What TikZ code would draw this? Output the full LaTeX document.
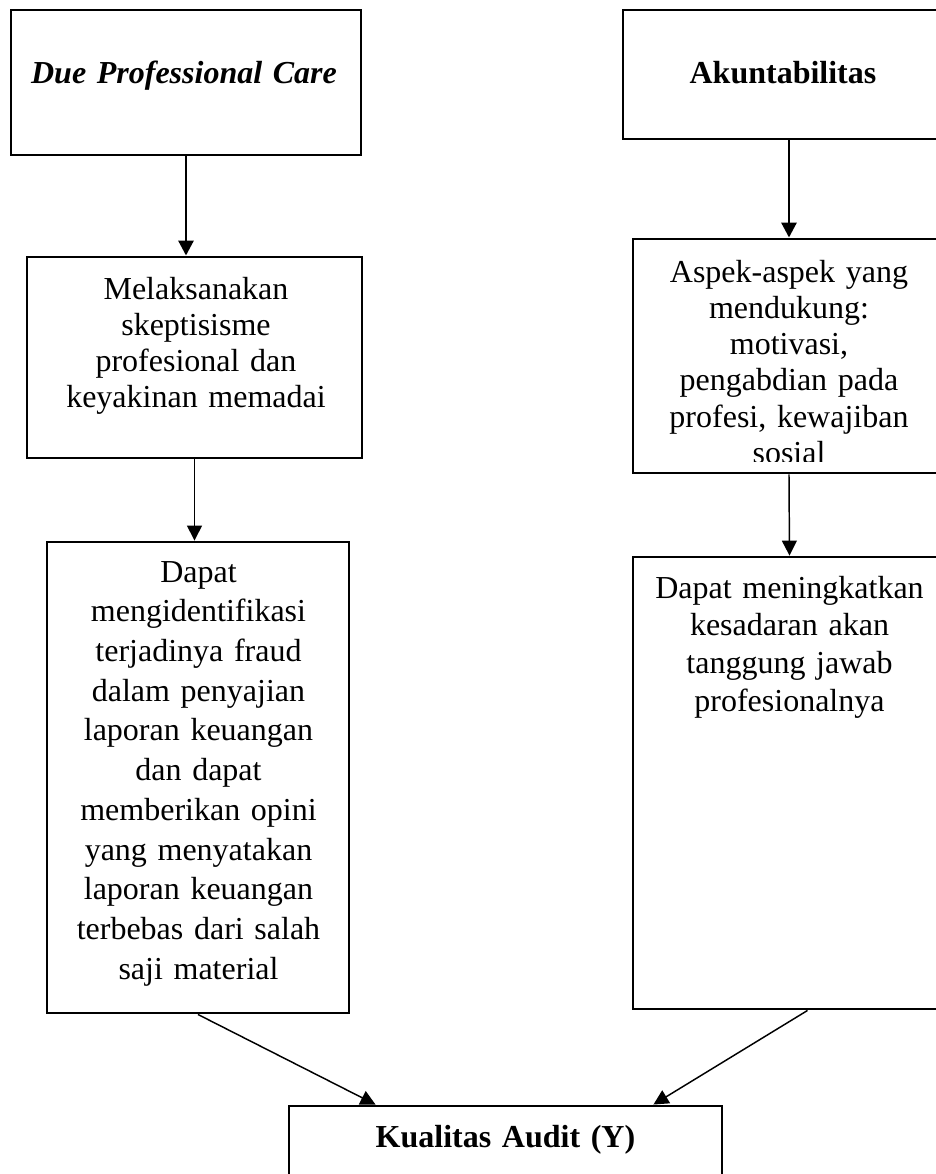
\documentclass[tikz,border=0pt]{standalone}
\usepackage{fontspec}
\setmainfont{Liberation Serif}
\usetikzlibrary{arrows.meta, positioning, calc}
\newdimen\px \px=0.375pt

\tikzset{
    kotak/.style={draw, line width=1.1pt, rectangle, inner sep=0pt},
    teks/.style={anchor=base, align=center, text width=340\px, inner sep=0pt, font=\fontsize{12}{13.6}\selectfont},
    judul/.style={teks, font=\fontsize{12}{13.6}\selectfont\bfseries},
    panah/.style={-{Triangle[length=5.6pt, width=5.6pt]}, line width=0.55pt},
    panahtebal/.style={-{Triangle[length=5.6pt, width=5.6pt]}, line width=1.1pt},
}

\begin{document}
\begin{tikzpicture}[x=0.375pt, y=-0.375pt]
    \useasboundingbox (0,0) rectangle (936,1174);
    \clip (0,0) rectangle (936,1174);

    % kolom kiri
    \node[kotak, minimum width=350\px, minimum height=145\px] (dpc) at (186,82.5) {};
    \node[judul, font=\fontsize{12}{13.6}\selectfont\bfseries\itshape] (dpcteks) at (184,83) {Due Professional Care};

    \node[kotak, minimum width=335\px, minimum height=201\px] (mel) at (194.5,357.5) {};
    \node[teks] (melteks) at (196,299) {Melaksanakan\\ skeptisisme\\ profesional dan\\ keyakinan memadai};

    \node[kotak, minimum width=302\px, minimum height=471\px] (dapat) at (198,777.5) {};
    \node[teks, font=\fontsize{12}{14.9}\selectfont] (dapatteks) at (198.5,582) {Dapat\\ mengidentifikasi\\ terjadinya fraud\\ dalam penyajian\\ laporan keuangan\\ dan dapat\\ memberikan opini\\ yang menyatakan\\ laporan keuangan\\ terbebas dari salah\\ saji material};

    % kolom kanan
    \node[kotak, minimum width=320\px, minimum height=129\px] (akun) at (783,74.5) {};
    \node[judul] (akunteks) at (783,83) {Akuntabilitas};

    \node[kotak, minimum width=312\px, minimum height=234\px] (aspek) at (789,356) {};
    \begin{scope}
        \clip (aspek.north west) rectangle ([yshift=13\px]aspek.south east);
        \node[teks] (aspekteks) at (789,282) {Aspek-aspek yang\\ mendukung:\\ motivasi,\\ pengabdian pada\\ profesi, kewajiban\\ sosial};
    \end{scope}

    \node[kotak, minimum width=313\px, minimum height=452\px] (tingkat) at (789.5,783) {};
    \node[teks, font=\fontsize{12}{14.2}\selectfont] (tingkatteks) at (789.5,598) {Dapat meningkatkan\\ kesadaran akan\\ tanggung jawab\\ profesionalnya};

    % variabel Y
    \node[kotak, minimum width=433\px, minimum height=94\px] (kual) at (505.5,1153) {};
    \node[judul] (kualteks) at (505.5,1147) {Kualitas Audit (Y)};

    % panah
    \draw[panahtebal] (dpc.south) -- (dpc.south |- mel.north);
    \draw[panahtebal] (aspek.north |- akun.south) -- (aspek.north);
    \draw[panah] (mel.south) -- (mel.south |- dapat.north);
    \draw[panah] (aspek.south) -- (tingkat.north);
    \draw[panah] (dapat.south) -- ([xshift=88\px]kual.north west);
    \draw[panah] ([xshift=18\px]tingkat.south) -- ([xshift=-70\px]kual.north east);
\end{tikzpicture}
\end{document}
